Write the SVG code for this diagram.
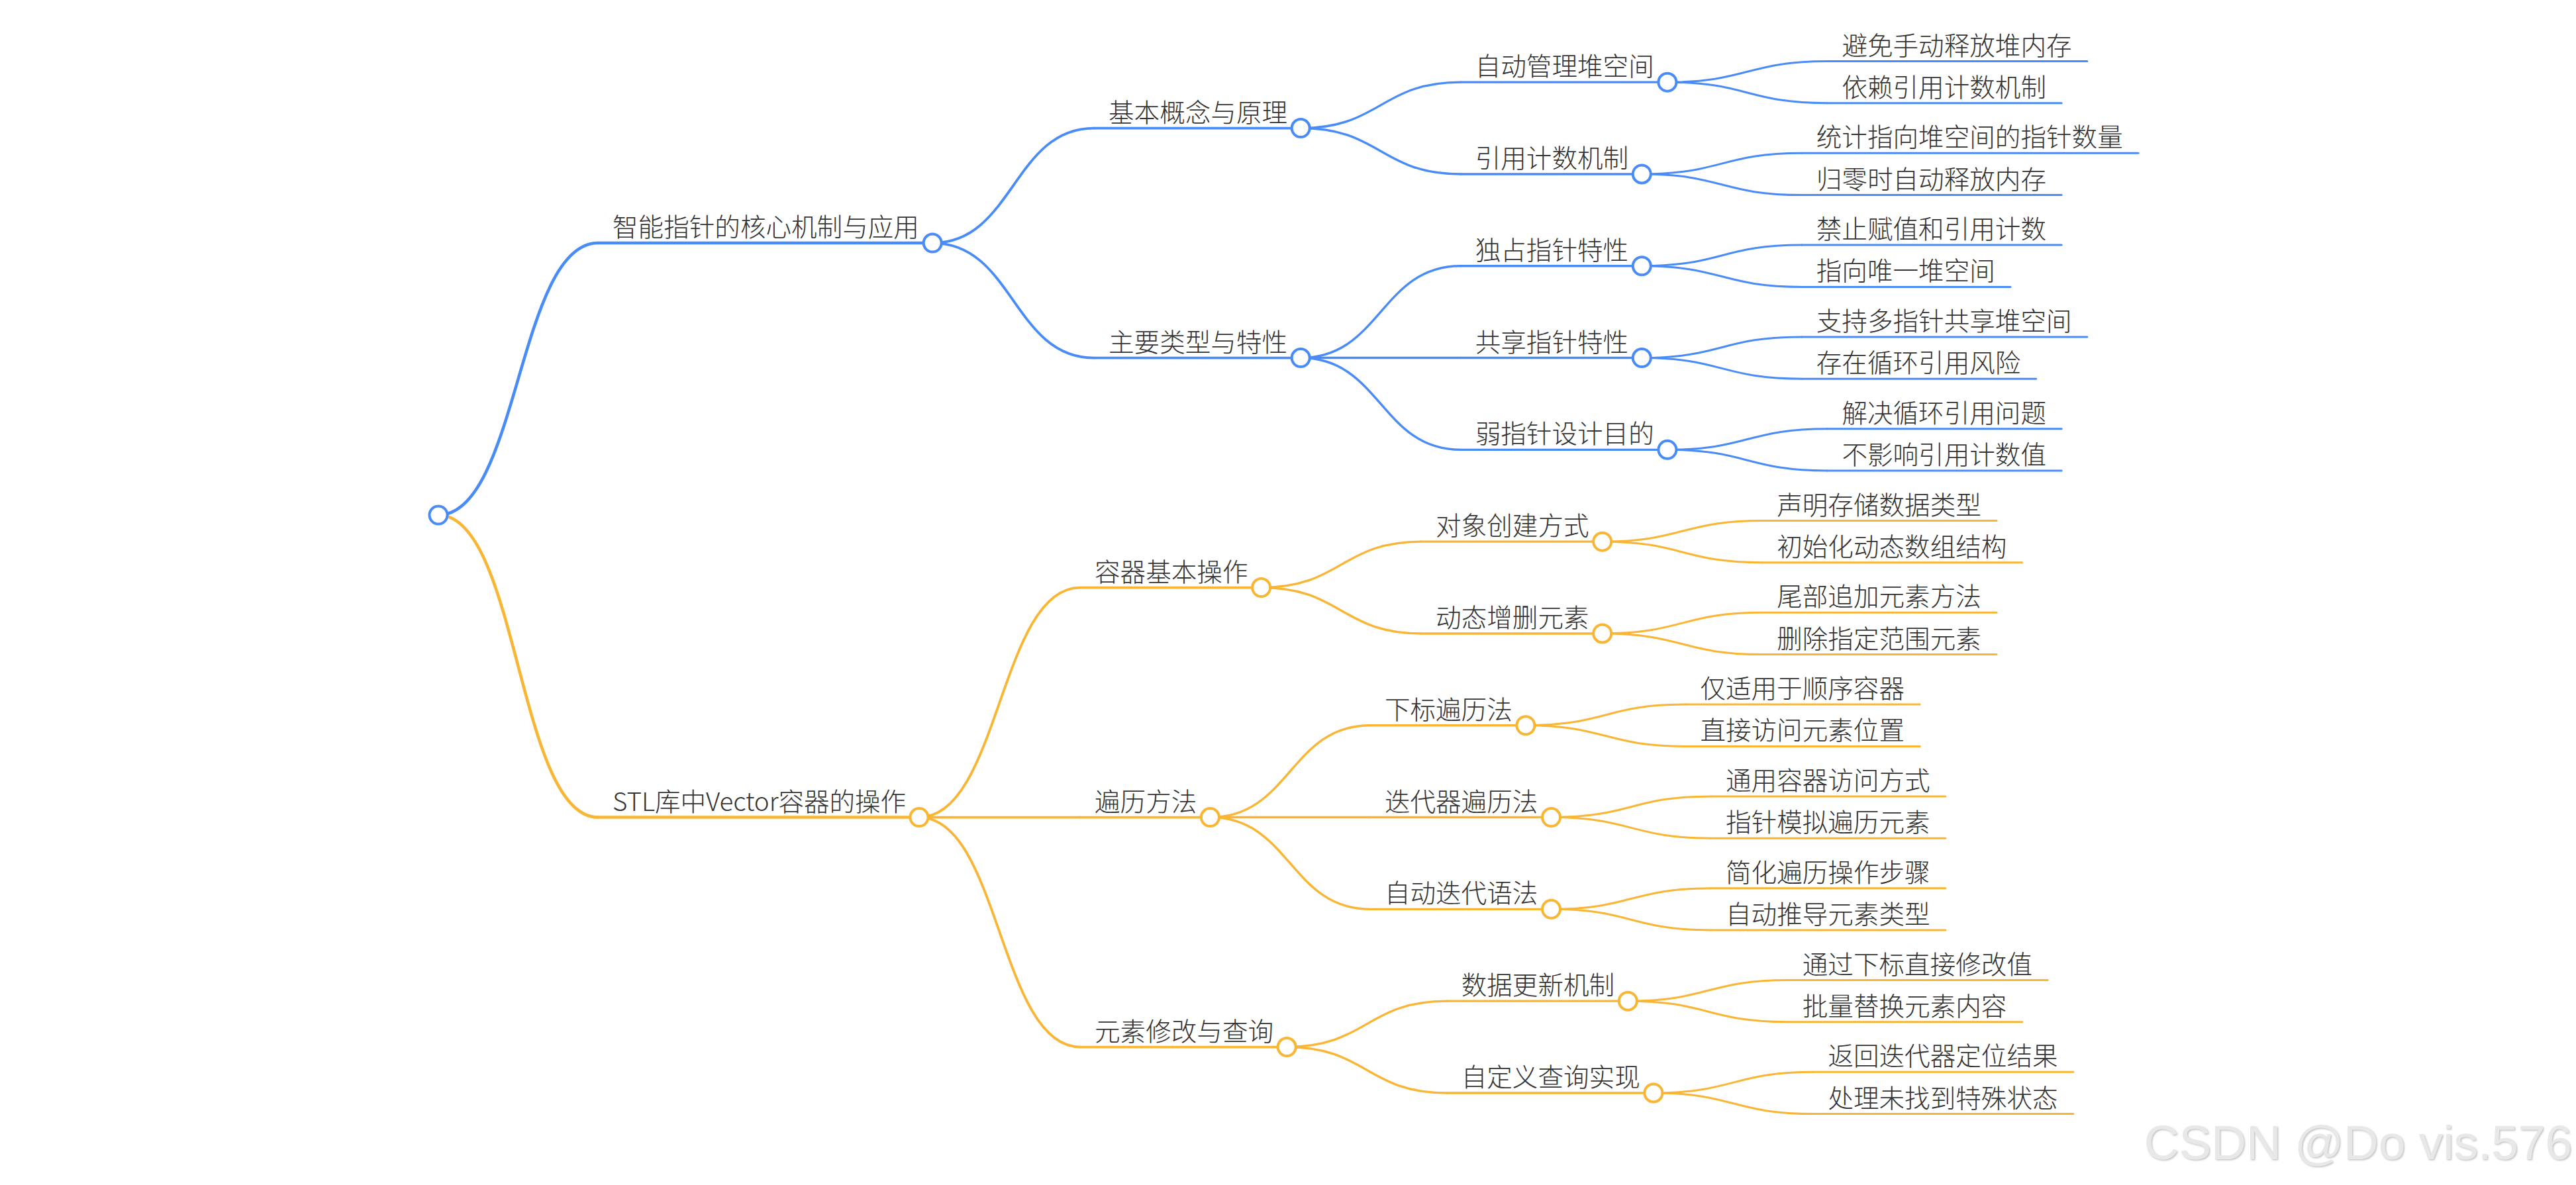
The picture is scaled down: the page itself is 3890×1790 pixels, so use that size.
<svg xmlns="http://www.w3.org/2000/svg" width="3890" height="1790" viewBox="0 0 3890 1790">
<defs>
<style>
.bg{fill:#ffffff}
.lk{fill:none;stroke-linecap:round}
.ul{stroke-linecap:round}
.b{stroke:#4A8CF7}
.o{stroke:#F9B534}
.w1{stroke-width:4.6}
.w2{stroke-width:3.8}
.w3{stroke-width:3.4}
.w4{stroke-width:3}
.c{fill:#ffffff;stroke-width:4}
.t{font-family:"Noto Sans CJK SC","Microsoft YaHei",sans-serif;font-size:38.6px;fill:#333333;font-weight:300}
.wm{font-family:"Liberation Sans",Arial,sans-serif;font-size:73px;fill:#e8e8e8}
</style>
<filter id="sh" x="-5%" y="-20%" width="110%" height="140%">
<feDropShadow dx="1.5" dy="1.5" stdDeviation="0.8" flood-color="#9a9a9a" flood-opacity="0.6"/>
</filter>
</defs>
<rect class="bg" x="0" y="0" width="3890" height="1790"/>

<g id="connectors">
<path class="lk b w1" d="M662,778 C782.5,778 782.5,367.05 903,367.05"/>
<path class="lk o w1" d="M662,778 C782.5,778 782.5,1234.55 903,1234.55"/>
<path class="lk b w2" d="M1408.2,367.05 C1530.1,367.05 1530.1,193.55 1652,193.55"/>
<path class="lk b w2" d="M1408.2,367.05 C1530.1,367.05 1530.1,540.55 1652,540.55"/>
<path class="lk o w2" d="M1388,1234.55 C1509.5,1234.55 1509.5,887.55 1631,887.55"/>
<path class="lk o w2" d="M1388,1234.55 L1631,1234.55"/>
<path class="lk o w2" d="M1388,1234.55 C1509.5,1234.55 1509.5,1581.55 1631,1581.55"/>
<path class="lk b w3" d="M1964.2,193.55 C2084.95,193.55 2084.95,124.15 2205.7,124.15"/>
<path class="lk b w3" d="M1964.2,193.55 C2084.95,193.55 2084.95,262.95 2205.7,262.95"/>
<path class="lk b w3" d="M1964.2,540.55 C2084.95,540.55 2084.95,401.75 2205.7,401.75"/>
<path class="lk b w3" d="M1964.2,540.55 L2205.7,540.55"/>
<path class="lk b w3" d="M1964.2,540.55 C2084.95,540.55 2084.95,679.35 2205.7,679.35"/>
<path class="lk o w3" d="M1904.6,887.55 C2025.35,887.55 2025.35,818.15 2146.1,818.15"/>
<path class="lk o w3" d="M1904.6,887.55 C2025.35,887.55 2025.35,956.95 2146.1,956.95"/>
<path class="lk o w3" d="M1827.4,1234.55 C1948.15,1234.55 1948.15,1095.75 2068.9,1095.75"/>
<path class="lk o w3" d="M1827.4,1234.55 L2068.9,1234.55"/>
<path class="lk o w3" d="M1827.4,1234.55 C1948.15,1234.55 1948.15,1373.35 2068.9,1373.35"/>
<path class="lk o w3" d="M1943.2,1581.55 C2063.95,1581.55 2063.95,1512.15 2184.7,1512.15"/>
<path class="lk o w3" d="M1943.2,1581.55 C2063.95,1581.55 2063.95,1650.95 2184.7,1650.95"/>
<path class="lk b w4" d="M2517.9,124.15 C2638.65,124.15 2638.65,92.5 2759.4,92.5"/>
<path class="lk b w4" d="M2517.9,124.15 C2638.65,124.15 2638.65,155.8 2759.4,155.8"/>
<path class="lk b w4" d="M2479.3,262.95 C2600.05,262.95 2600.05,231.3 2720.8,231.3"/>
<path class="lk b w4" d="M2479.3,262.95 C2600.05,262.95 2600.05,294.6 2720.8,294.6"/>
<path class="lk b w4" d="M2479.3,401.75 C2600.05,401.75 2600.05,370.1 2720.8,370.1"/>
<path class="lk b w4" d="M2479.3,401.75 C2600.05,401.75 2600.05,433.4 2720.8,433.4"/>
<path class="lk b w4" d="M2479.3,540.55 C2600.05,540.55 2600.05,508.9 2720.8,508.9"/>
<path class="lk b w4" d="M2479.3,540.55 C2600.05,540.55 2600.05,572.2 2720.8,572.2"/>
<path class="lk b w4" d="M2517.9,679.35 C2638.65,679.35 2638.65,647.7 2759.4,647.7"/>
<path class="lk b w4" d="M2517.9,679.35 C2638.65,679.35 2638.65,711 2759.4,711"/>
<path class="lk o w4" d="M2419.7,818.15 C2540.45,818.15 2540.45,786.5 2661.2,786.5"/>
<path class="lk o w4" d="M2419.7,818.15 C2540.45,818.15 2540.45,849.8 2661.2,849.8"/>
<path class="lk o w4" d="M2419.7,956.95 C2540.45,956.95 2540.45,925.3 2661.2,925.3"/>
<path class="lk o w4" d="M2419.7,956.95 C2540.45,956.95 2540.45,988.6 2661.2,988.6"/>
<path class="lk o w4" d="M2303.9,1095.75 C2424.65,1095.75 2424.65,1064.1 2545.4,1064.1"/>
<path class="lk o w4" d="M2303.9,1095.75 C2424.65,1095.75 2424.65,1127.4 2545.4,1127.4"/>
<path class="lk o w4" d="M2342.5,1234.55 C2463.25,1234.55 2463.25,1202.9 2584,1202.9"/>
<path class="lk o w4" d="M2342.5,1234.55 C2463.25,1234.55 2463.25,1266.2 2584,1266.2"/>
<path class="lk o w4" d="M2342.5,1373.35 C2463.25,1373.35 2463.25,1341.7 2584,1341.7"/>
<path class="lk o w4" d="M2342.5,1373.35 C2463.25,1373.35 2463.25,1405 2584,1405"/>
<path class="lk o w4" d="M2458.3,1512.15 C2579.05,1512.15 2579.05,1480.5 2699.8,1480.5"/>
<path class="lk o w4" d="M2458.3,1512.15 C2579.05,1512.15 2579.05,1543.8 2699.8,1543.8"/>
<path class="lk o w4" d="M2496.9,1650.95 C2617.65,1650.95 2617.65,1619.3 2738.4,1619.3"/>
<path class="lk o w4" d="M2496.9,1650.95 C2617.65,1650.95 2617.65,1682.6 2738.4,1682.6"/>
</g>

<!-- level 1 -->
<g id="n-smart">
<line class="ul b w1" x1="903" y1="367.05" x2="1408.2" y2="367.05"/>
<text class="t" x="925" y="357">智能指针的核心机制与应用</text>
<circle class="c b" cx="1408.2" cy="367.05" r="13.5"/>
</g>
<g id="n-stl">
<line class="ul o w1" x1="903" y1="1234.55" x2="1388" y2="1234.55"/>
<text class="t" x="925" y="1224.5" textLength="443">STL库中Vector容器的操作</text>
<circle class="c o" cx="1388" cy="1234.55" r="13.5"/>
</g>

<!-- level 2 -->
<g id="n-basic">
<line class="ul b w2" x1="1652" y1="193.55" x2="1964.2" y2="193.55"/>
<text class="t" x="1674" y="183.5">基本概念与原理</text>
<circle class="c b" cx="1964.2" cy="193.55" r="13.5"/>
</g>
<g id="n-types">
<line class="ul b w2" x1="1652" y1="540.55" x2="1964.2" y2="540.55"/>
<text class="t" x="1674" y="530.5">主要类型与特性</text>
<circle class="c b" cx="1964.2" cy="540.55" r="13.5"/>
</g>
<g id="n-container">
<line class="ul o w2" x1="1631" y1="887.55" x2="1904.6" y2="887.55"/>
<text class="t" x="1653" y="877.5">容器基本操作</text>
<circle class="c o" cx="1904.6" cy="887.55" r="13.5"/>
</g>
<g id="n-traverse">
<line class="ul o w2" x1="1631" y1="1234.55" x2="1827.4" y2="1234.55"/>
<text class="t" x="1653" y="1224.5">遍历方法</text>
<circle class="c o" cx="1827.4" cy="1234.55" r="13.5"/>
</g>
<g id="n-modify">
<line class="ul o w2" x1="1631" y1="1581.55" x2="1943.2" y2="1581.55"/>
<text class="t" x="1653" y="1571.5">元素修改与查询</text>
<circle class="c o" cx="1943.2" cy="1581.55" r="13.5"/>
</g>

<!-- level 3 blue -->
<g id="n-q0">
<line class="ul b w3" x1="2205.7" y1="124.15" x2="2517.9" y2="124.15"/>
<text class="t" x="2227.7" y="114.1">自动管理堆空间</text>
<circle class="c b" cx="2517.9" cy="124.15" r="13.5"/>
</g>
<g id="n-q1">
<line class="ul b w3" x1="2205.7" y1="262.95" x2="2479.3" y2="262.95"/>
<text class="t" x="2227.7" y="252.9">引用计数机制</text>
<circle class="c b" cx="2479.3" cy="262.95" r="13.5"/>
</g>
<g id="n-q2">
<line class="ul b w3" x1="2205.7" y1="401.75" x2="2479.3" y2="401.75"/>
<text class="t" x="2227.7" y="391.7">独占指针特性</text>
<circle class="c b" cx="2479.3" cy="401.75" r="13.5"/>
</g>
<g id="n-q3">
<line class="ul b w3" x1="2205.7" y1="540.55" x2="2479.3" y2="540.55"/>
<text class="t" x="2227.7" y="530.5">共享指针特性</text>
<circle class="c b" cx="2479.3" cy="540.55" r="13.5"/>
</g>
<g id="n-q4">
<line class="ul b w3" x1="2205.7" y1="679.35" x2="2517.9" y2="679.35"/>
<text class="t" x="2227.7" y="669.3">弱指针设计目的</text>
<circle class="c b" cx="2517.9" cy="679.35" r="13.5"/>
</g>

<!-- level 3 orange -->
<g id="n-q5">
<line class="ul o w3" x1="2146.1" y1="818.15" x2="2419.7" y2="818.15"/>
<text class="t" x="2168.1" y="808.1">对象创建方式</text>
<circle class="c o" cx="2419.7" cy="818.15" r="13.5"/>
</g>
<g id="n-q6">
<line class="ul o w3" x1="2146.1" y1="956.95" x2="2419.7" y2="956.95"/>
<text class="t" x="2168.1" y="946.9">动态增删元素</text>
<circle class="c o" cx="2419.7" cy="956.95" r="13.5"/>
</g>
<g id="n-q7">
<line class="ul o w3" x1="2068.9" y1="1095.75" x2="2303.9" y2="1095.75"/>
<text class="t" x="2090.9" y="1085.7">下标遍历法</text>
<circle class="c o" cx="2303.9" cy="1095.75" r="13.5"/>
</g>
<g id="n-q8">
<line class="ul o w3" x1="2068.9" y1="1234.55" x2="2342.5" y2="1234.55"/>
<text class="t" x="2090.9" y="1224.5">迭代器遍历法</text>
<circle class="c o" cx="2342.5" cy="1234.55" r="13.5"/>
</g>
<g id="n-q9">
<line class="ul o w3" x1="2068.9" y1="1373.35" x2="2342.5" y2="1373.35"/>
<text class="t" x="2090.9" y="1363.3">自动迭代语法</text>
<circle class="c o" cx="2342.5" cy="1373.35" r="13.5"/>
</g>
<g id="n-q10">
<line class="ul o w3" x1="2184.7" y1="1512.15" x2="2458.3" y2="1512.15"/>
<text class="t" x="2206.7" y="1502.1">数据更新机制</text>
<circle class="c o" cx="2458.3" cy="1512.15" r="13.5"/>
</g>
<g id="n-q11">
<line class="ul o w3" x1="2184.7" y1="1650.95" x2="2496.9" y2="1650.95"/>
<text class="t" x="2206.7" y="1640.9">自定义查询实现</text>
<circle class="c o" cx="2496.9" cy="1650.95" r="13.5"/>
</g>

<!-- leaves blue -->
<g id="l-0a"><line class="ul b w4" x1="2759.4" y1="92.5" x2="3151.8" y2="92.5"/><text class="t" x="2781.4" y="82.5">避免手动释放堆内存</text></g>
<g id="l-0b"><line class="ul b w4" x1="2759.4" y1="155.8" x2="3113.2" y2="155.8"/><text class="t" x="2781.4" y="145.8">依赖引用计数机制</text></g>
<g id="l-1a"><line class="ul b w4" x1="2720.8" y1="231.3" x2="3229" y2="231.3"/><text class="t" x="2742.8" y="221.3">统计指向堆空间的指针数量</text></g>
<g id="l-1b"><line class="ul b w4" x1="2720.8" y1="294.6" x2="3113.2" y2="294.6"/><text class="t" x="2742.8" y="284.6">归零时自动释放内存</text></g>
<g id="l-2a"><line class="ul b w4" x1="2720.8" y1="370.1" x2="3113.2" y2="370.1"/><text class="t" x="2742.8" y="360.1">禁止赋值和引用计数</text></g>
<g id="l-2b"><line class="ul b w4" x1="2720.8" y1="433.4" x2="3036" y2="433.4"/><text class="t" x="2742.8" y="423.4">指向唯一堆空间</text></g>
<g id="l-3a"><line class="ul b w4" x1="2720.8" y1="508.9" x2="3151.8" y2="508.9"/><text class="t" x="2742.8" y="498.9">支持多指针共享堆空间</text></g>
<g id="l-3b"><line class="ul b w4" x1="2720.8" y1="572.2" x2="3074.6" y2="572.2"/><text class="t" x="2742.8" y="562.2">存在循环引用风险</text></g>
<g id="l-4a"><line class="ul b w4" x1="2759.4" y1="647.7" x2="3113.2" y2="647.7"/><text class="t" x="2781.4" y="637.7">解决循环引用问题</text></g>
<g id="l-4b"><line class="ul b w4" x1="2759.4" y1="711" x2="3113.2" y2="711"/><text class="t" x="2781.4" y="701">不影响引用计数值</text></g>

<!-- leaves orange -->
<g id="l-5a"><line class="ul o w4" x1="2661.2" y1="786.5" x2="3015" y2="786.5"/><text class="t" x="2683.2" y="776.5">声明存储数据类型</text></g>
<g id="l-5b"><line class="ul o w4" x1="2661.2" y1="849.8" x2="3053.6" y2="849.8"/><text class="t" x="2683.2" y="839.8">初始化动态数组结构</text></g>
<g id="l-6a"><line class="ul o w4" x1="2661.2" y1="925.3" x2="3015" y2="925.3"/><text class="t" x="2683.2" y="915.3">尾部追加元素方法</text></g>
<g id="l-6b"><line class="ul o w4" x1="2661.2" y1="988.6" x2="3015" y2="988.6"/><text class="t" x="2683.2" y="978.6">删除指定范围元素</text></g>
<g id="l-7a"><line class="ul o w4" x1="2545.4" y1="1064.1" x2="2899.2" y2="1064.1"/><text class="t" x="2567.4" y="1054.1">仅适用于顺序容器</text></g>
<g id="l-7b"><line class="ul o w4" x1="2545.4" y1="1127.4" x2="2899.2" y2="1127.4"/><text class="t" x="2567.4" y="1117.4">直接访问元素位置</text></g>
<g id="l-8a"><line class="ul o w4" x1="2584" y1="1202.9" x2="2937.8" y2="1202.9"/><text class="t" x="2606" y="1192.9">通用容器访问方式</text></g>
<g id="l-8b"><line class="ul o w4" x1="2584" y1="1266.2" x2="2937.8" y2="1266.2"/><text class="t" x="2606" y="1256.2">指针模拟遍历元素</text></g>
<g id="l-9a"><line class="ul o w4" x1="2584" y1="1341.7" x2="2937.8" y2="1341.7"/><text class="t" x="2606" y="1331.7">简化遍历操作步骤</text></g>
<g id="l-9b"><line class="ul o w4" x1="2584" y1="1405" x2="2937.8" y2="1405"/><text class="t" x="2606" y="1395">自动推导元素类型</text></g>
<g id="l-10a"><line class="ul o w4" x1="2699.8" y1="1480.5" x2="3092.2" y2="1480.5"/><text class="t" x="2721.8" y="1470.5">通过下标直接修改值</text></g>
<g id="l-10b"><line class="ul o w4" x1="2699.8" y1="1543.8" x2="3053.6" y2="1543.8"/><text class="t" x="2721.8" y="1533.8">批量替换元素内容</text></g>
<g id="l-11a"><line class="ul o w4" x1="2738.4" y1="1619.3" x2="3130.8" y2="1619.3"/><text class="t" x="2760.4" y="1609.3">返回迭代器定位结果</text></g>
<g id="l-11b"><line class="ul o w4" x1="2738.4" y1="1682.6" x2="3130.8" y2="1682.6"/><text class="t" x="2760.4" y="1672.6">处理未找到特殊状态</text></g>

<!-- root -->
<g id="n-root">
<circle class="c b" cx="662" cy="778" r="13.5"/>
</g>

<text class="wm" x="3884" y="1751" text-anchor="end" filter="url(#sh)">CSDN @Do vis.576</text>
</svg>
